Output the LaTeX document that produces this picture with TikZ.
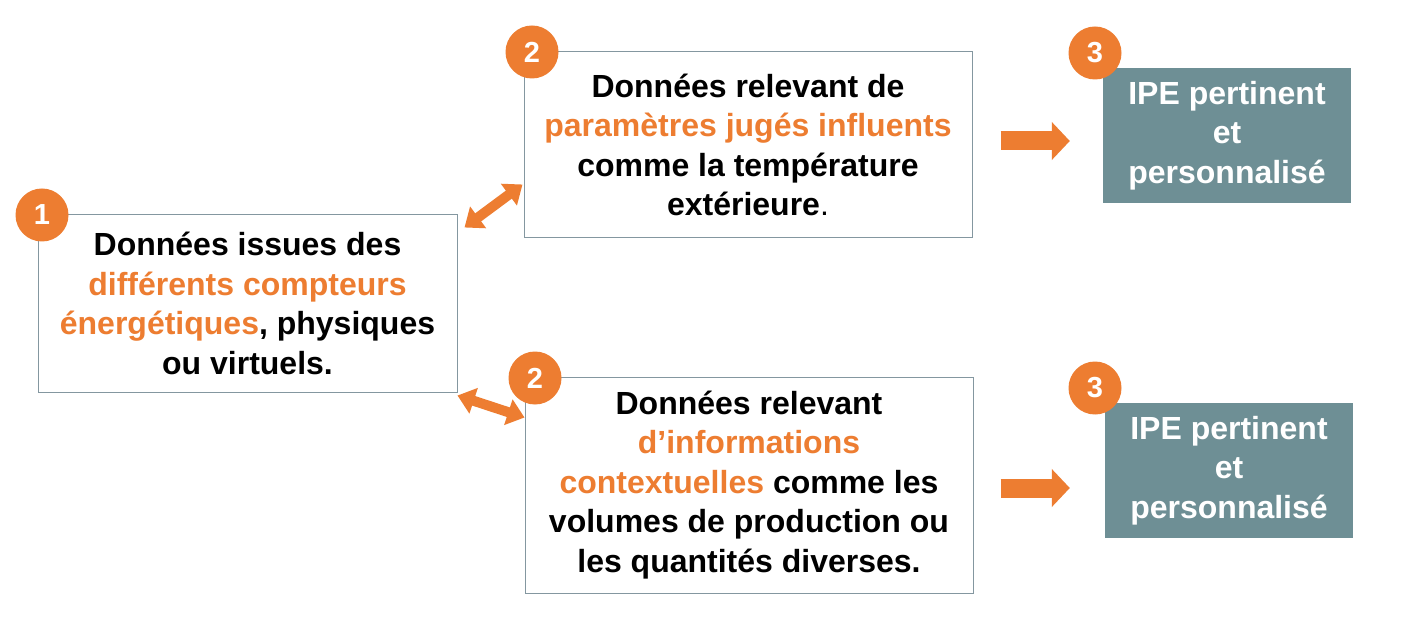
\documentclass[tikz,border=0pt]{standalone}
\usepackage{fontspec}
\setmainfont{Liberation Sans}
\usepackage{xcolor}
\usetikzlibrary{
    positioning,
    arrows.meta,
    calc
}
\definecolor{ipeorange}{HTML}{ED7D31}
\definecolor{ipeteal}{HTML}{6E8F95}
\definecolor{ipeframe}{HTML}{8497A0}
\newcommand{\hl}[1]{\textcolor{ipeorange}{#1}}

\begin{document}
\begin{tikzpicture}[
    x=1pt, y=-1pt,
    infobox/.style={rectangle, draw=ipeframe, line width=1pt, fill=white, align=center, inner sep=0pt, font=\bfseries\fontsize{32}{39.5}\selectfont},
    ipebox/.style={rectangle, fill=ipeteal, text=white, align=center, inner sep=0pt, minimum width=248pt, minimum height=135pt, font=\bfseries\fontsize{32}{39.5}\selectfont},
    badge/.style={circle, fill=ipeorange, text=white, inner sep=0pt, minimum size=53pt, font=\bfseries\fontsize{29}{30}\selectfont},
    arrow/.style={-{Triangle[length=18pt,width=37pt]}, line width=19pt, draw=ipeorange}, % flat block arrow
    dblarrow/.style={{Triangle[length=17pt,width=26pt]}-{Triangle[length=17pt,width=26pt]}, line width=10pt, draw=ipeorange}
]
    \useasboundingbox[fill=white] (0,0) rectangle (1418,617);

    % --- SOURCE DATA ---
    \node[infobox, minimum width=419pt, minimum height=177pt] (meters) at (247.5,303.5)
        {Données issues des\\\hl{différents compteurs}\\\hl{énergétiques}, physiques\\ou virtuels.};

    % --- INFLUENCING DATA ---
    \node[infobox, minimum width=448pt, minimum height=186pt] (params) at (748,145)
        {Données relevant de\\\hl{paramètres jugés influents}\\comme la température\\extérieure\mdseries.};
    \node[infobox, minimum width=448pt, minimum height=216pt] (context) at (749,485)
        {Données relevant\\\hl{d’informations}\\\hl{contextuelles} comme les\\volumes de production ou\\les quantités diverses.};

    % --- RESULTS ---
    \node[ipebox] (ipeA) at (1227,135.5) {IPE pertinent\\et\\personnalisé};
    \node[ipebox] (ipeB) at (1229,470.5) {IPE pertinent\\et\\personnalisé};

    % --- STEP NUMBERS ---
    \node[badge] (n1) at (42,215) {1};
    \node[badge] (n2a) at (532,52) {2};
    \node[badge] (n2b) at (535,378) {2};
    \node[badge] (n3a) at (1095,53) {3};
    \node[badge] (n3b) at (1095,388) {3};

    % --- ARROWS ---
    \coordinate (m_top) at ([shift={(7,13)}]meters.north east);
    \coordinate (p_low) at ([shift={(-1,-54)}]params.south west);
    \coordinate (m_bot) at ([shift={(0,3)}]meters.south east);
    \coordinate (c_top) at ([shift={(0,41)}]context.north west);
    \draw[dblarrow] (m_top) -- (p_low);
    \draw[dblarrow] (m_bot) -- (c_top);

    \draw[arrow, shorten <=28pt, shorten >=33pt] ([yshift=4pt]params.east) -- ([yshift=4pt]ipeA.west |- params.east);
    \draw[arrow, shorten <=27pt, shorten >=35pt] ([yshift=-3pt]context.east) -- ([yshift=-3pt]ipeB.west |- context.east);

\end{tikzpicture}
\end{document}
